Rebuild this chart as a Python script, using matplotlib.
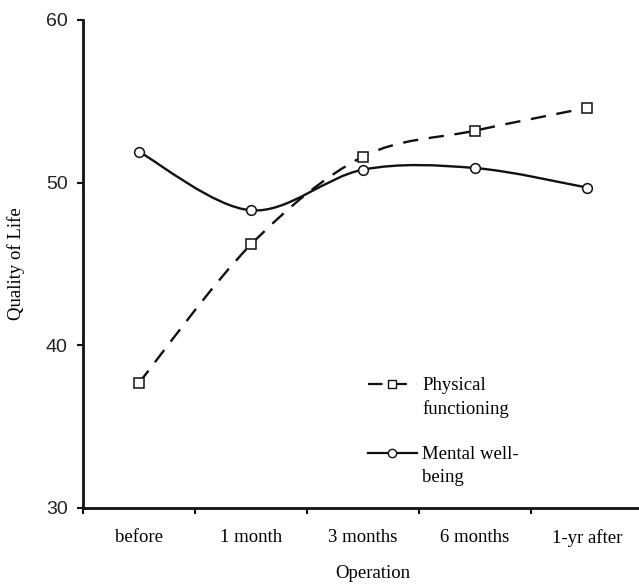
import numpy as np
import matplotlib
matplotlib.use("Agg")
import matplotlib.pyplot as plt
from matplotlib.path import Path
from matplotlib.patches import PathPatch
from matplotlib.lines import Line2D

# data
periods = ["before", "1 month", "3 months", "6 months", "1-yr after"]
physical = [37.7, 46.2, 51.6, 53.2, 54.6]
mental = [51.9, 48.3, 50.8, 50.9, 49.7]

serif = "Liberation Serif"
sans = "Liberation Sans"
ink = "#111111"
fs = 13.5


def smooth_path(xs, ys):
    # Excel-like smoothed line: cubic bezier through every point
    pts = np.column_stack([xs, ys]).astype(float)
    n = len(pts)
    verts = [pts[0]]
    codes = [Path.MOVETO]
    for i in range(n - 1):
        p0 = pts[max(i - 1, 0)]
        p1 = pts[i]
        p2 = pts[i + 1]
        p3 = pts[min(i + 2, n - 1)]
        verts += [p1 + (p2 - p0) / 6, p2 - (p3 - p1) / 6, p2]
        codes += [Path.CURVE4] * 3
    return Path(verts, codes)


fig = plt.figure(figsize=(6.39, 5.88), dpi=100)
ax = fig.add_axes([83 / 639, 1 - 508 / 588, 560 / 639, 488 / 588])

x = np.arange(len(periods))
dash = (0, (6.5, 4.5))

ax.add_patch(PathPatch(smooth_path(x, physical), fill=False, edgecolor=ink,
                       lw=1.7, linestyle=dash, capstyle="butt"))
ax.add_patch(PathPatch(smooth_path(x, mental), fill=False, edgecolor=ink, lw=1.7))
ax.plot(x, physical, ls="none", marker="s", ms=7, mfc="white", mec=ink, mew=1.1, zorder=3)
ax.plot(x, mental, ls="none", marker="o", ms=7, mfc="white", mec=ink, mew=1.1, zorder=3)

ax.set_xlim(-0.5, 4.5)
ax.set_ylim(30, 60)
ax.set_yticks([30, 40, 50, 60])
ax.set_xticks(x)
ax.set_xticklabels(periods, fontfamily=serif, fontsize=fs)
ax.set_xticks(np.arange(-0.5, 5, 1), minor=True)
ax.tick_params(axis="x", which="major", length=0, pad=15)
ax.tick_params(axis="x", which="minor", length=4, width=1.5, direction="out", color=ink)
ax.tick_params(axis="y", length=4, width=1.5, pad=7, color=ink)
for lab in ax.get_yticklabels():
    lab.set_fontfamily(sans)
    lab.set_fontsize(14)
    lab.set_color("#222222")

for side in ["top", "right"]:
    ax.spines[side].set_visible(False)
for side in ["left", "bottom"]:
    ax.spines[side].set_linewidth(2)
    ax.spines[side].set_color(ink)

ax.set_ylabel("Quality of Life", fontfamily=serif, fontsize=fs)
ax.yaxis.set_label_coords(-0.104, 0.5)
ax.set_xlabel("Operation", fontfamily=serif, fontsize=fs)
ax.xaxis.set_label_coords(0.518, -0.116)

# legend: handle sits on the first line of each two-line label
blank = Line2D([], [], ls="none")
handles = [
    Line2D([], [], color=ink, lw=1.6, ls=dash, marker="s", ms=6, mfc="white", mec=ink),
    blank, blank,
    Line2D([], [], color=ink, lw=1.6, marker="o", ms=6, mfc="white", mec=ink),
    blank,
]
labels = ["Physical", "functioning", "", "Mental well-", "being"]
ax.legend(handles, labels,
          loc="upper left", bbox_to_anchor=(368 / 639, 1 - 377 / 588),
          bbox_transform=fig.transFigure, frameon=False, borderpad=0,
          borderaxespad=0, handlelength=2.6, handletextpad=0.3, labelspacing=0.3,
          prop={"family": serif, "size": fs})

fig.savefig("out.png", dpi=100)
